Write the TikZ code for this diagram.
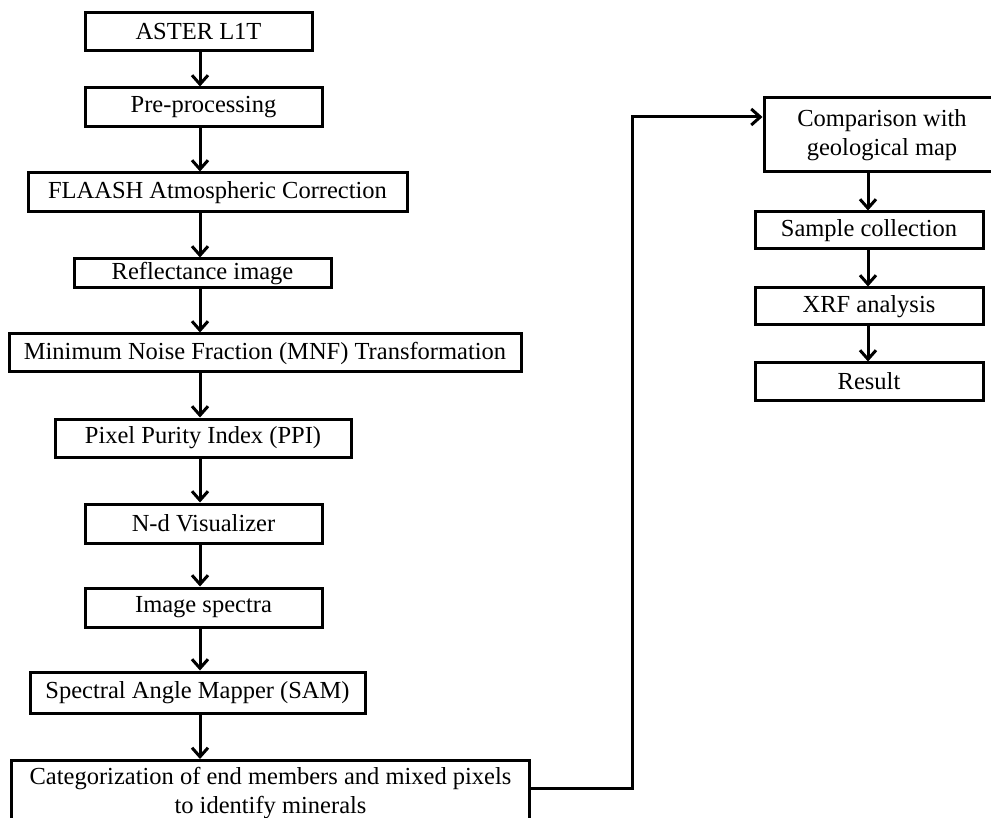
\documentclass[tikz,border=0pt]{standalone}
\usepackage{fontspec}
\setmainfont{Liberation Serif}
\usetikzlibrary{arrows.meta}
\begin{document}
\begin{tikzpicture}[x=1pt,y=-1pt,
  box/.style={draw=black,line width=3pt,fill=white,inner sep=0pt,align=center,
    font=\fontsize{24.5}{29}\selectfont},
  arr/.style={line width=3pt,-{Straight Barb[length=9pt,width=16pt,line width=3pt]}}]
\useasboundingbox (0,0) rectangle (991,818);
\newcommand{\mybox}[6]{\node[box,minimum width={#3-#2},minimum height={#5-#4}] (#1) at ({(#2+#3)/2},{(#4+#5)/2}) {#6};}
\mybox{aster}{85}{312}{13}{51}{ASTER L1T}
\mybox{pre}{85}{322}{88}{127}{Pre-processing}
\mybox{flaash}{28}{407}{173}{212}{FLAASH Atmospheric Correction}
\mybox{refl}{74}{331}{259}{288}{Reflectance image}
\mybox{mnf}{9}{521}{334}{372}{Minimum Noise Fraction (MNF) Transformation}
\mybox{ppi}{55}{351}{419}{457}{Pixel Purity Index (PPI)}
\mybox{nd}{85}{322}{504}{543}{N-d Visualizer}
\mybox{spec}{85}{322}{588}{627}{Image spectra}
\mybox{sam}{30}{365}{672}{713}{Spectral Angle Mapper (SAM)}
\node[box,minimum width=518,minimum height=66,anchor=north west,inner ysep=4pt] (cat) at (10,759) {Categorization of end members and mixed pixels\\to identify minerals};
\mybox{comp}{764}{1000}{98}{172}{Comparison with\\geological map}
\mybox{samp}{755}{983}{212}{249}{Sample collection}
\mybox{xrf}{755}{983}{288}{325}{XRF analysis}
\mybox{res}{755}{983}{363}{400}{Result}
\coordinate (ax) at (200,0);
\coordinate (bx) at (868,0);
\coordinate (vx) at (632,0);
\coordinate (cin) at (0,117);
\foreach \a/\b in {aster/pre,pre/flaash,flaash/refl,refl/mnf,mnf/ppi,ppi/nd,nd/spec,spec/sam,sam/cat}
  \draw[arr] (\a.south -| ax) -- (\b.north -| ax);
\foreach \a/\b in {comp/samp,samp/xrf,xrf/res}
  \draw[arr] (\a.south -| bx) -- (\b.north -| bx);
\draw[arr] (cat.east |- 0,788) -- (vx |- 0,788) -- (vx |- cin) -- (comp.west |- cin);
\end{tikzpicture}
\end{document}
